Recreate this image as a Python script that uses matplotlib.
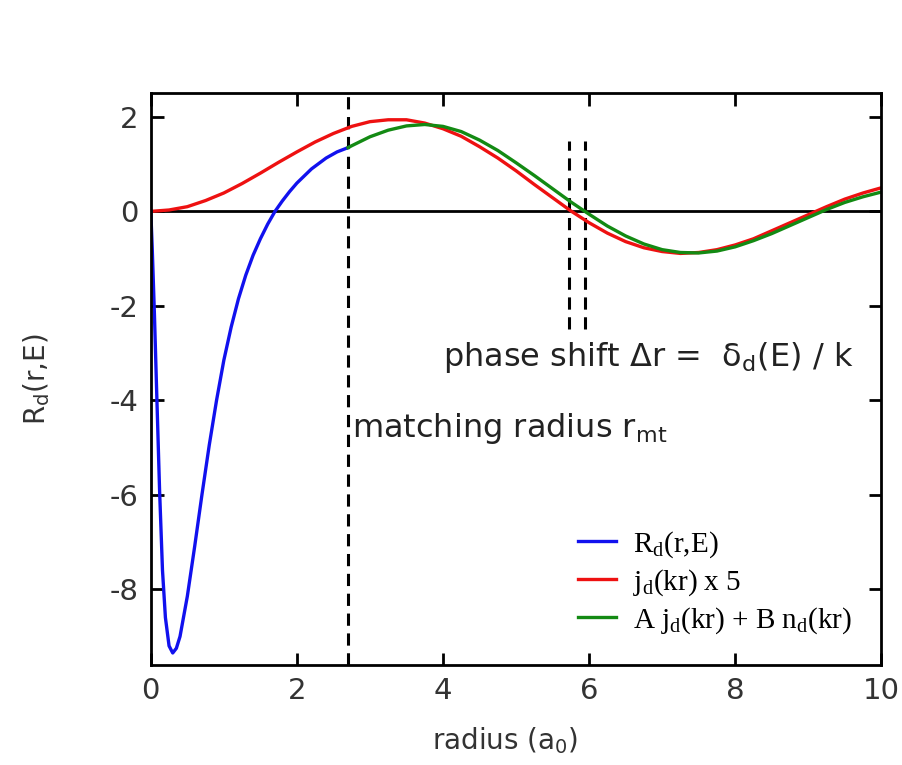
import matplotlib.pyplot as plt

# blue: radial solution inside the matching radius
r_in = [0.0, 0.02, 0.05, 0.08, 0.12, 0.16, 0.2, 0.25, 0.3, 0.35, 0.4, 0.5, 0.6, 0.7,
        0.8, 0.9, 1.0, 1.1, 1.2, 1.3, 1.4, 1.5, 1.6, 1.7, 1.8, 1.9, 2.0, 2.2, 2.4,
        2.55, 2.7]
R_d = [0.0, -0.8, -2.2, -3.8, -5.9, -7.6, -8.6, -9.2, -9.35, -9.25, -9.0, -8.15,
       -7.1, -6.0, -4.95, -4.0, -3.15, -2.45, -1.85, -1.35, -0.93, -0.58, -0.27,
       0.0, 0.22, 0.42, 0.6, 0.9, 1.13, 1.26, 1.35]

# red: free Bessel function x 5
r_free = [0.0, 0.25, 0.5, 0.75, 1.0, 1.25, 1.5, 1.75, 2.0, 2.25, 2.5, 2.75, 3.0, 3.25,
          3.5, 3.75, 4.0, 4.25, 4.5, 4.75, 5.0, 5.25, 5.5, 5.75, 6.0, 6.25, 6.5,
          6.75, 7.0, 7.25, 7.5, 7.75, 8.0, 8.25, 8.5, 8.75, 9.0, 9.25, 9.5, 9.75, 10.0]
j_d = [0.0, 0.03, 0.10, 0.23, 0.39, 0.59, 0.81, 1.04, 1.26, 1.47, 1.65, 1.80, 1.90,
       1.94, 1.94, 1.87, 1.75, 1.59, 1.37, 1.13, 0.86, 0.57, 0.29, 0.01, -0.24,
       -0.46, -0.64, -0.77, -0.85, -0.89, -0.87, -0.81, -0.71, -0.58, -0.41, -0.24,
       -0.07, 0.10, 0.26, 0.39, 0.50]

# green: matched outside solution
r_out = [2.7, 2.75, 3.0, 3.25, 3.5, 3.75, 4.0, 4.25, 4.5, 4.75, 5.0, 5.25, 5.5, 5.75,
         6.0, 6.25, 6.5, 6.75, 7.0, 7.25, 7.5, 7.75, 8.0, 8.25, 8.5, 8.75, 9.0,
         9.25, 9.5, 9.75, 10.0]
R_out = [1.35, 1.39, 1.58, 1.72, 1.81, 1.84, 1.80, 1.69, 1.51, 1.29, 1.03, 0.76,
         0.48, 0.20, -0.06, -0.31, -0.52, -0.69, -0.81, -0.87, -0.88, -0.84, -0.75,
         -0.62, -0.47, -0.30, -0.13, 0.04, 0.19, 0.31, 0.41]

r_mt = 2.7
shift_lines = [5.72, 5.95]
shift_ymin, shift_ymax = -2.5, 1.5

plt.rcParams['font.family'] = ['DejaVu Sans']
plt.rcParams['mathtext.default'] = 'regular'
plt.rcParams['axes.unicode_minus'] = False

fig = plt.figure(figsize=(9.03, 7.65), dpi=100)
ax = fig.add_axes([0.167, 0.131, 0.809, 0.747])

ax.axhline(0, color='black', linewidth=2)
ax.axvline(r_mt, color='black', linewidth=2.2, linestyle=(0, (4, 2.5)))
for xs in shift_lines:
    ax.plot([xs, xs], [shift_ymin, shift_ymax], color='black', linewidth=2.2,
            linestyle=(0, (4, 2.5)))

l2, = ax.plot(r_free, j_d, color='#ee1111', linewidth=2.4)
l1, = ax.plot(r_in, R_d, color='#1111ee', linewidth=2.4)
l3, = ax.plot(r_out, R_out, color='#138a13', linewidth=2.4)

ax.set_xlim(0, 10)
ax.set_ylim(-9.6, 2.5)
ax.set_xticks([0, 2, 4, 6, 8, 10])
ax.set_yticks([2, 0, -2, -4, -6, -8])
ax.tick_params(direction='in', length=9, width=2, labelsize=21, pad=9,
               top=True, right=True, colors='black', labelcolor='#333333')
for sp in ax.spines.values():
    sp.set_linewidth(2)

ax.set_xlabel('radius (a$_0$)', fontsize=20, color='#333333')
ax.set_ylabel('R$_d$(r,E)', fontsize=20, color='#333333')
ax.xaxis.set_label_coords(0.485, -0.105)
ax.yaxis.set_label_coords(-0.135, 0.5)

ax.text(2.76, -4.6, 'matching radius r$_{mt}$', fontsize=23, color='#222222',
        va='center', ha='left')
ax.text(4.0, -3.1, 'phase shift \u0394r =  \u03b4$_d$(E) / k', fontsize=23,
        color='#222222', va='center', ha='left')

leg = ax.legend([l1, l2, l3],
                ['R$_d$(r,E)', 'j$_d$(kr) x 5', 'A j$_d$(kr) + B n$_d$(kr)'],
                loc='lower right', frameon=False, handlelength=1.3,
                handletextpad=0.6, labelspacing=0.25, borderaxespad=0.6,
                prop={'family': 'Liberation Serif', 'size': 21})

fig.savefig('out.png', dpi=100)
